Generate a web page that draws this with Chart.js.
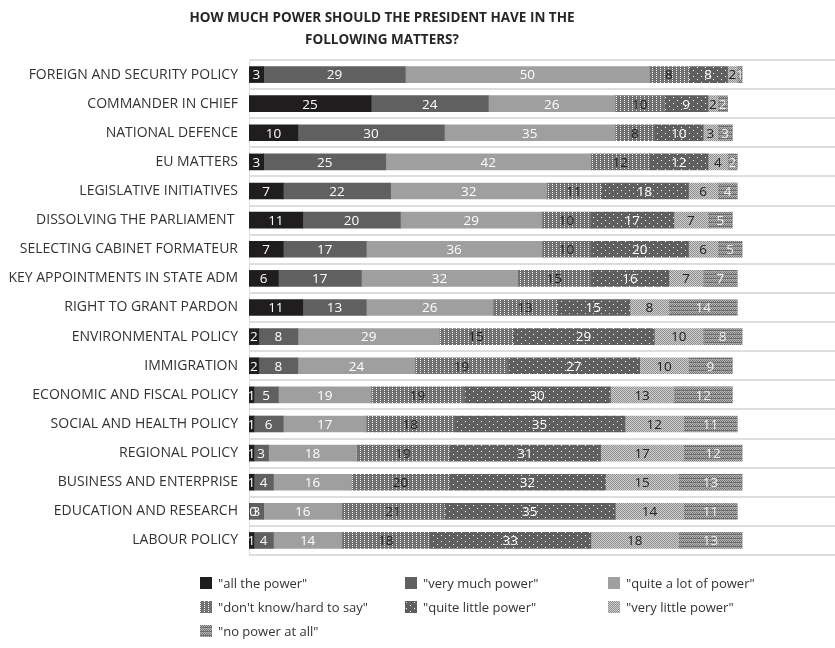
<!DOCTYPE html>
<html><head><meta charset="utf-8">
<script src="https://cdn.jsdelivr.net/npm/chart.js@4.4.0/dist/chart.umd.min.js"></script>
<style>
html,body{margin:0;padding:0;background:#fff;}
#wrap{position:relative;width:835px;height:648px;}
#title{position:absolute;left:182px;width:400px;top:6px;text-align:center;font:bold 13.5px "Open Sans",sans-serif;color:#262626;line-height:22px;}
#legend{position:absolute;left:200px;top:574px;width:620px;font:13px "Open Sans",sans-serif;color:#333;}
.item{position:absolute;display:flex;align-items:center;white-space:nowrap;}
.item canvas{width:12px;height:12px;margin-right:6px;}
</style></head>
<body><div id="wrap">
<canvas id="c" width="835" height="648"></canvas>
<div id="title">HOW MUCH POWER SHOULD THE PRESIDENT HAVE IN THE FOLLOWING MATTERS?</div>
<div id="legend"></div>
</div>
<script>
var categories = ["FOREIGN AND SECURITY POLICY", "COMMANDER IN CHIEF", "NATIONAL DEFENCE", "EU MATTERS", "LEGISLATIVE INITIATIVES", "DISSOLVING THE PARLIAMENT ", "SELECTING CABINET FORMATEUR", "KEY APPOINTMENTS IN STATE ADM", "RIGHT TO GRANT PARDON", "ENVIRONMENTAL POLICY", "IMMIGRATION", "ECONOMIC AND FISCAL POLICY", "SOCIAL AND HEALTH POLICY", "REGIONAL POLICY", "BUSINESS AND ENTERPRISE", "EDUCATION AND RESEARCH", "LABOUR POLICY"];
var seriesNames = ["\"all the power\"", "\"very much power\"", "\"quite a lot of power\"", "\"don't know/hard to say\"", "\"quite little power\"", "\"very little power\"", "\"no power at all\""];
var allThePower = [3, 25, 10, 3, 7, 11, 7, 6, 11, 2, 2, 1, 1, 1, 1, 0, 1];
var veryMuch    = [29, 24, 30, 25, 22, 20, 17, 17, 13, 8, 8, 5, 6, 3, 4, 3, 4];
var quiteALot   = [50, 26, 35, 42, 32, 29, 36, 32, 26, 29, 24, 19, 17, 18, 16, 16, 14];
var dontKnow    = [8, 10, 8, 12, 11, 10, 10, 15, 13, 15, 19, 19, 18, 19, 20, 21, 18];
var quiteLittle = [8, 9, 10, 12, 18, 17, 20, 16, 15, 29, 27, 30, 35, 31, 32, 35, 33];
var veryLittle  = [2, 2, 3, 4, 6, 7, 6, 7, 8, 10, 10, 13, 12, 17, 15, 14, 18];
var noPower     = [1, 2, 3, 2, 4, 5, 5, 7, 14, 8, 9, 12, 11, 12, 13, 11, 13];
var seriesValues = [allThePower, veryMuch, quiteALot, dontKnow, quiteLittle, veryLittle, noPower];
</script>
<script>
function makeTile(w, h, bg, dots) {
  var cv = document.createElement('canvas');
  cv.width = w; cv.height = h;
  var x = cv.getContext('2d');
  x.fillStyle = bg; x.fillRect(0, 0, w, h);
  for (var k = 0; k < dots.length; k++) {
    var d = dots[k];
    x.fillStyle = d[0];
    x.fillRect(d[1], d[2], d[3], d[4]);
  }
  return cv;
}
var tiles = [
  makeTile(2, 2, '#1f1d1e', []),
  makeTile(2, 2, '#606060', []),
  makeTile(2, 2, '#9f9f9f', []),
  makeTile(4, 4, '#6e6e6e', [['#ffffff', 0, 0, 1, 1], ['#ffffff', 0, 2, 1, 1], ['#8a8a8a', 2, 1, 1, 1]]),
  makeTile(8, 6, '#5f5f5f', [['#ffffff', 1, 1, 1, 1], ['#ffffff', 5, 4, 1, 1]]),
  makeTile(2, 2, '#cfcfcf', [['#8f8f8f', 0, 0, 1, 1], ['#8f8f8f', 1, 1, 1, 1]]),
  makeTile(4, 4, '#b8b8b8', [['#6e6e6e', 0, 0, 1, 1], ['#6e6e6e', 2, 0, 1, 1], ['#6e6e6e', 1, 1, 1, 1], ['#6e6e6e', 3, 1, 1, 1], ['#6e6e6e', 0, 2, 4, 1], ['#8a8a8a', 1, 3, 1, 1], ['#8a8a8a', 3, 3, 1, 1]])
];
var labelColors = ['#ffffff', '#ffffff', '#ffffff', '#222222', '#ffffff', '#222222', '#f0f0f0'];
var ctx = document.getElementById('c').getContext('2d');
var patterns = [];
for (var p = 0; p < tiles.length; p++) { patterns.push(ctx.createPattern(tiles[p], 'repeat')); }

var labelPlugin = {
  id: 'vals',
  afterDatasetsDraw: function (chart) {
    var c = chart.ctx;
    c.save();
    c.font = '13.5px "Open Sans", sans-serif';
    c.textAlign = 'center';
    c.textBaseline = 'middle';
    for (var i = 0; i < chart.data.datasets.length; i++) {
      var ds = chart.data.datasets[i];
      var meta = chart.getDatasetMeta(i);
      for (var j = 0; j < meta.data.length; j++) {
        var el = meta.data[j];
        var v = ds.data[j];
        var cx = (el.x + el.base) / 2;
        if (v === 0) { cx = el.base + 4; }
        c.fillStyle = labelColors[i];
        c.fillText(String(v), cx, el.y + 1);
      }
    }
    c.restore();
  }
};

var datasets = [];
for (var s = 0; s < seriesValues.length; s++) {
  datasets.push({ label: seriesNames[s], data: seriesValues[s], backgroundColor: patterns[s], borderWidth: 0, barThickness: 16 });
}

new Chart(ctx, {
  type: 'bar',
  data: { labels: categories, datasets: datasets },
  options: {
    indexAxis: 'y', responsive: false, animation: false,
    layout: { padding: { top: 60, bottom: 93, left: 0, right: 0 } },
    plugins: { legend: { display: false }, title: { display: false }, tooltip: { enabled: false } },
    scales: {
      x: { stacked: true, min: 0, max: 120, display: false },
      y: {
        stacked: true,
        afterFit: function (sc) { sc.width = 249; },
        grid: { color: '#dedede', lineWidth: 2, drawTicks: false, offset: true },
        border: { color: '#dedede', width: 1 },
        ticks: { color: '#333333', font: { family: '"Open Sans", sans-serif', size: 14 }, padding: 11 }
      }
    }
  },
  plugins: [labelPlugin]
});

var legend = document.getElementById('legend');
var cols = [0, 205, 408];
for (var n = 0; n < seriesNames.length; n++) {
  var it = document.createElement('div');
  it.className = 'item';
  it.style.left = cols[n % 3] + 'px';
  it.style.top = (Math.floor(n / 3) * 24) + 'px';
  var sw = document.createElement('canvas');
  sw.width = 12; sw.height = 12;
  var sx = sw.getContext('2d');
  sx.fillStyle = sx.createPattern(tiles[n], 'repeat');
  sx.fillRect(0, 0, 12, 12);
  var t = document.createElement('span');
  t.textContent = seriesNames[n];
  it.appendChild(sw); it.appendChild(t); legend.appendChild(it);
}
</script>
</body></html>
